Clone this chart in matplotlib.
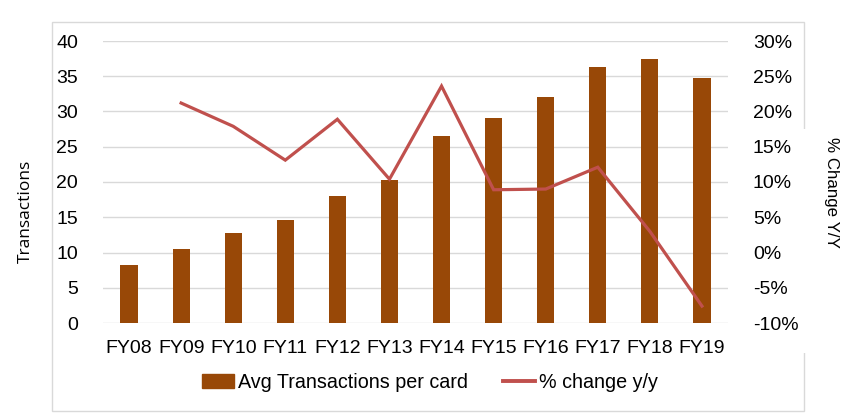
import matplotlib.pyplot as plt
from matplotlib.patches import Rectangle
from matplotlib.lines import Line2D
from matplotlib.ticker import FuncFormatter
import numpy as np

years = ['FY08', 'FY09', 'FY10', 'FY11', 'FY12', 'FY13',
         'FY14', 'FY15', 'FY16', 'FY17', 'FY18', 'FY19']
avg_txn = [8.25, 10.5, 12.8, 14.6, 18.0, 20.3, 26.5, 29.1, 32.1, 36.3, 37.4, 34.75]
pct_change = [np.nan, 21.2, 17.9, 13.1, 18.9, 10.4, 23.6, 8.9, 9.0, 12.1, 3.0, -7.6]

bar_color = '#984807'
line_color = '#C0504D'
grid_color = '#d9d9d9'

plt.rcParams['font.family'] = ['Liberation Sans', 'DejaVu Sans']

W, H = 852, 416
fig = plt.figure(figsize=(W / 100, H / 100), dpi=100)

# chart border, with gap on the right where the axis title sits
fig.patches.append(Rectangle((52 / W, 1 - 411 / H), 752 / W, 389 / H,
                             transform=fig.transFigure, fill=False,
                             edgecolor=grid_color, lw=1, zorder=0))
fig.patches.append(Rectangle((798 / W, 1 - 353 / H), 14 / W, 224 / H,
                             transform=fig.transFigure, facecolor='white',
                             edgecolor='none', zorder=1))

ax = fig.add_axes([103 / W, 1 - 323 / H, 625 / W, 282 / H])
x = np.arange(len(years))
ax.bar(x, avg_txn, width=0.33, color=bar_color, zorder=2)
ax.set_xlim(-0.5, len(years) - 0.5)
ax.set_ylim(0, 40)
ax.set_yticks(range(0, 41, 5))
ax.set_xticks(x)
ax.set_xticklabels(years)
ax.yaxis.grid(True, color=grid_color, lw=1)
ax.set_axisbelow(True)
for s in ax.spines.values():
    s.set_visible(False)
ax.tick_params(axis='both', length=0, labelsize=14, colors='black')
ax.tick_params(axis='y', pad=18)
ax.tick_params(axis='x', pad=12)

ax2 = ax.twinx()
ax2.plot(x, pct_change, color=line_color, lw=2.3, zorder=3,
         solid_joinstyle='miter')
ax2.set_ylim(-10, 30)
ax2.set_yticks(range(-10, 31, 5))
ax2.yaxis.set_major_formatter(FuncFormatter(lambda v, p: f'{v:.0f}%'))
for s in ax2.spines.values():
    s.set_visible(False)
ax2.tick_params(axis='y', length=0, labelsize=14, pad=18)

fig.text(26 / W, 1 - 211 / H, 'Transactions', rotation=90, ha='center',
         va='center', fontsize=12.5, family=['Open Sans', 'DejaVu Sans'])
fig.text(832 / W, 1 - 192 / H, '% Change Y/Y', rotation=270, ha='center',
         va='center', fontsize=12.2)

handles = [Rectangle((0, 0), 1, 1, color=bar_color),
           Line2D([0], [0], color=line_color, lw=2.8)]
fig.legend(handles, ['Avg Transactions per card', '% change y/y'],
           loc='center', bbox_to_anchor=(430 / W, 1 - 382 / H), ncol=2,
           frameon=False, fontsize=14.2, handlelength=1.6, handletextpad=0.2,
           columnspacing=1.8)

fig.savefig('out.png', dpi=100)
